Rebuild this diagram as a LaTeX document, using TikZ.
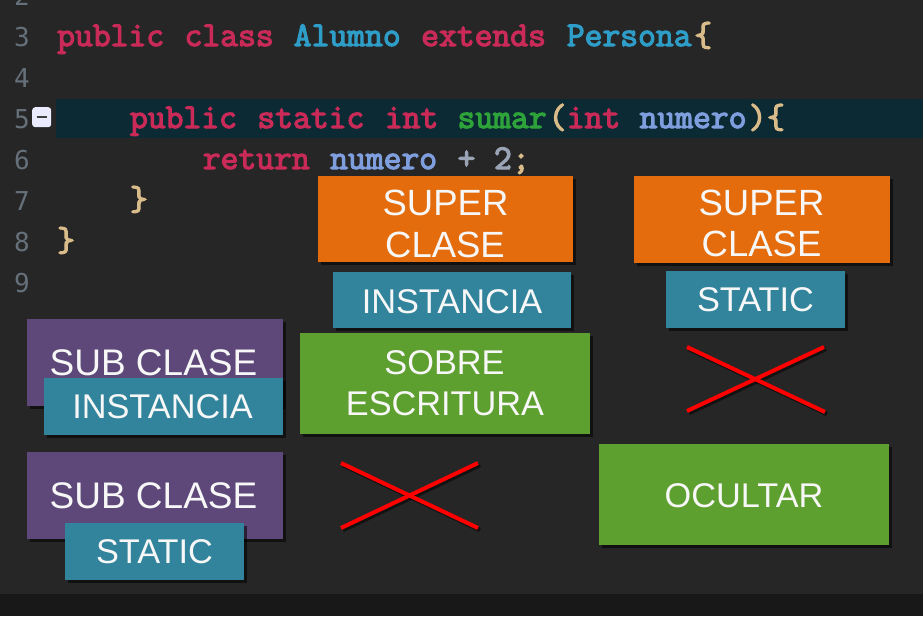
\documentclass[tikz,border=0pt]{standalone}
\usepackage{fontspec}
\setmainfont{Liberation Sans}
\newfontfamily\numfont{DejaVu Sans Mono}
\newfontfamily\codefont[FakeBold=3.5]{Latin Modern Mono}
\usetikzlibrary{shadows}
\definecolor{bg}{HTML}{262626}
\definecolor{strip}{HTML}{181818}
\definecolor{band}{HTML}{0C2A34}
\definecolor{numgray}{HTML}{66707A}
\definecolor{kw}{HTML}{C92A58}
\definecolor{cls}{HTML}{2E9DC8}
\definecolor{var}{HTML}{7E9EDD}
\definecolor{fn}{HTML}{2EA33A}
\definecolor{brc}{HTML}{D9BC8A}
\definecolor{opr}{HTML}{9AA4B4}
\definecolor{orangebox}{HTML}{E46C0C}
\definecolor{tealbox}{HTML}{31849B}
\definecolor{greenbox}{HTML}{5EA02F}
\definecolor{purplebox}{HTML}{5E4879}
\definecolor{txt}{HTML}{F7F7F7}
\tikzset{
  code/.style={anchor=base west, inner sep=0pt, font=\codefont\fontsize{34.6}{34.6}\selectfont},
  lnum/.style={anchor=base west, inner sep=0pt, text=numgray, font=\numfont\fontsize{26}{26}\selectfont},
  box/.style={anchor=north west, inner sep=0pt, draw=none,
    drop shadow={shadow xshift=2.5pt, shadow yshift=-2.5pt, opacity=0.55, fill=black}},
  lbl/.style={anchor=base, inner sep=0pt, text=txt, font=\fontsize{36.5}{36.5}\selectfont},
  lblb/.style={anchor=base, inner sep=0pt, text=txt, font=\fontsize{37}{37}\selectfont},
  lbls/.style={anchor=base, inner sep=0pt, text=txt, font=\fontsize{34.3}{34.3}\selectfont},
  cross/.style={red, line width=4pt},
  crossshadow/.style={black, opacity=.5, line width=4.5pt},
}
\begin{document}
\begin{tikzpicture}[x=1pt, y=-1pt]
\useasboundingbox (0,0) rectangle (923,616);
\fill[bg] (0,0) rectangle (923,616);
\fill[strip] (0,594) rectangle (923,616);
\fill[band] (56,99) rectangle (923,138);
% line numbers
\node[lnum] (n2) at (14,5) {2};
\node[lnum] (n3) at (14,46) {3};
\node[lnum] (n4) at (14,87) {4};
\node[lnum] (n5) at (14,128) {5};
\node[lnum] (n6) at (14,169) {6};
\node[lnum] (n7) at (14,210) {7};
\node[lnum] (n8) at (14,251) {8};
\node[lnum] (n9) at (14,292) {9};
% fold icon
\node[anchor=north west, fill=white!92!blue, rounded corners=3pt, minimum width=19pt, minimum height=20pt, inner sep=0pt] (fold) at (32,107) {};
\draw[line width=2pt, black!75] ([xshift=-5pt]fold.center) -- ([xshift=5pt]fold.center);
% line 3
\node[code, text=kw] (c3a) at (57,46) {public};
\node[code, text=kw] (c3b) at (184.4,46) {class};
\node[code, text=cls] (c3c) at (293.6,46) {Alumno};
\node[code, text=kw] (c3d) at (421,46) {extends};
\node[code, text=cls] (c3e) at (566.6,46) {Persona};
\node[code, text=brc] (c3f) at (694,46) {\{};
% line 5
\node[code, text=kw] (c5a) at (129.8,128) {public};
\node[code, text=kw] (c5b) at (257.2,128) {static};
\node[code, text=kw] (c5c) at (384.6,128) {int};
\node[code, text=fn] (c5d) at (457.4,128) {sumar};
\node[code, text=brc] (c5e) at (548.4,128) {(};
\node[code, text=kw] (c5f) at (566.6,128) {int};
\node[code, text=var] (c5g) at (639.4,128) {numero};
\node[code, text=brc] (c5h) at (748.6,128) {)};
\node[code, text=brc] (c5i) at (766.8,128) {\{};
% line 6
\node[code, text=kw] (c6a) at (202.6,169) {return};
\node[code, text=var] (c6b) at (330,169) {numero};
\node[code, text=opr] (c6c) at (457.4,169) {+};
\node[code, text=opr] (c6d) at (493.8,169) {2};
\node[code, text=brc] (c6e) at (512,169) {;};
% line 7, 8
\node[code, text=brc] (c7a) at (129.8,210) {\}};
\node[code, text=brc] (c8a) at (57,251) {\}};
% boxes middle column
\node[box, fill=orangebox, minimum width=255pt, minimum height=86pt] (supA) at (318,176) {};
\node[lbl] (supA1) at (445.5,215) {SUPER};
\node[lbl] (supA2) at (445,257) {CLASE};
\node[box, fill=tealbox, minimum width=238pt, minimum height=56pt] (instA) at (333,272) {};
\node[lbls] (instA1) at (452,313) {INSTANCIA};
\node[box, fill=greenbox, minimum width=290pt, minimum height=101pt] (sobre) at (300,333) {};
\node[lbls] (sobre1) at (444.5,374) {SOBRE};
\node[lbls] (sobre2) at (445,415) {ESCRITURA};
% boxes right column
\node[box, fill=orangebox, minimum width=256pt, minimum height=87pt] (supB) at (634,176) {};
\node[lbl] (supB1) at (761.5,215) {SUPER};
\node[lbl] (supB2) at (761.5,256) {CLASE};
\node[box, fill=tealbox, minimum width=179pt, minimum height=57pt] (statB) at (666,271) {};
\node[lbls] (statB1) at (755.5,311) {STATIC};
\node[box, fill=greenbox, minimum width=290pt, minimum height=101pt] (ocul) at (599,444) {};
\node[lbls] (ocul1) at (744,507) {OCULTAR};
% boxes left column
\node[box, fill=purplebox, minimum width=256pt, minimum height=87pt] (subA) at (27,319) {};
\node[lblb] (subA1) at (153.5,375) {SUB CLASE};
\node[box, fill=tealbox, minimum width=239pt, minimum height=57pt] (instB) at (44,378) {};
\node[lbls] (instB1) at (162.5,418) {INSTANCIA};
\node[box, fill=purplebox, minimum width=256pt, minimum height=87pt] (subB) at (27,452) {};
\node[lblb] (subB1) at (153.5,508) {SUB CLASE};
\node[box, fill=tealbox, minimum width=179pt, minimum height=57pt] (statA) at (65,523) {};
\node[lbls] (statA1) at (154.5,563) {STATIC};
% crosses
\coordinate (xa1) at (341,463); \coordinate (xa2) at (478,528);
\coordinate (xa3) at (341,528); \coordinate (xa4) at (478,463);
\coordinate (xb1) at (687,347); \coordinate (xb2) at (825,412);
\coordinate (xb3) at (687,411); \coordinate (xb4) at (824,347);
\draw[crossshadow] ([shift={(2,2)}]xa1) -- ([shift={(2,2)}]xa2);
\draw[crossshadow] ([shift={(2,2)}]xa3) -- ([shift={(2,2)}]xa4);
\draw[crossshadow] ([shift={(2,2)}]xb1) -- ([shift={(2,2)}]xb2);
\draw[crossshadow] ([shift={(2,2)}]xb3) -- ([shift={(2,2)}]xb4);
\draw[cross] (xa1) -- (xa2); \draw[cross] (xa3) -- (xa4);
\draw[cross] (xb1) -- (xb2); \draw[cross] (xb3) -- (xb4);
\end{tikzpicture}
\end{document}
